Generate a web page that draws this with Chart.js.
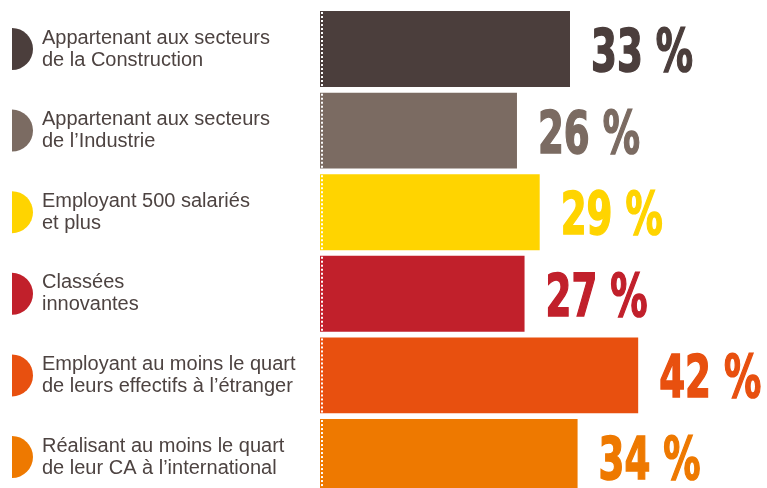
<!DOCTYPE html>
<html>
<head>
<meta charset="utf-8">
<script src="https://cdn.jsdelivr.net/npm/chart.js@4"></script>
<style>
  html, body { margin: 0; padding: 0; background: #fff; overflow: hidden; }
  #wrap { width: 767px; height: 500px; }
</style>
</head>
<body>
<div id="wrap"><canvas id="chart" width="767" height="500"></canvas></div>
<script>
// Data
const categories = [
    ['Appartenant aux secteurs', 'de la Construction'],
    ['Appartenant aux secteurs', 'de l’Industrie'],
    ['Employant 500 salariés', 'et plus'],
    ['Classées', 'innovantes'],
    ['Employant au moins le quart', 'de leurs effectifs à l’étranger'],
    ['Réalisant au moins le quart', 'de leur CA à l’international'],
];
const shares = [33, 26, 29, 27, 42, 34];
const barColors = ['#4b3e3c', '#7b6b62', '#ffd400', '#c1202b', '#e8500f', '#ee7900'];

// Half discs on the left, dotted edge and big value labels
const decorations = {
    id: 'decorations',
    afterDatasetsDraw(chart) {
        const { ctx } = chart;
        const yScale = chart.scales.y;
        const meta = chart.getDatasetMeta(0);

        ctx.save();
        categories.forEach((_, i) => {
            const cy = yScale.getPixelForValue(i);
            ctx.fillStyle = barColors[i];
            ctx.beginPath();
            ctx.arc(12, cy, 21, -Math.PI / 2, Math.PI / 2);
            ctx.closePath();
            ctx.fill();
        });

        meta.data.forEach((bar, i) => {
            const top = bar.y - bar.height / 2;
            const bottom = bar.y + bar.height / 2;
            ctx.strokeStyle = '#ffffff';
            ctx.lineWidth = 2;
            ctx.setLineDash([2, 2]);
            ctx.beginPath();
            ctx.moveTo(bar.base + 2, top + 1);
            ctx.lineTo(bar.base + 2, bottom);
            ctx.stroke();
            ctx.setLineDash([]);

            // condensed look: squeeze the text to the width seen in the picture
            const text = `${shares[i]} %`;
            ctx.font = 'bold 58px "DejaVu Sans Condensed", "DejaVu Sans", sans-serif';
            ctx.fillStyle = barColors[i];
            ctx.strokeStyle = barColors[i];
            ctx.lineWidth = 1.5;
            ctx.textAlign = 'left';
            ctx.textBaseline = 'alphabetic';
            const squeeze = 102 / ctx.measureText(text).width;
            ctx.save();
            ctx.translate(bar.x + 21, bar.y + 22);
            ctx.scale(squeeze, 1);
            ctx.fillText(text, 0, 0);
            ctx.strokeText(text, 0, 0);
            ctx.restore();
        });
        ctx.restore();
    },
};

// eslint-disable-next-line no-new
new Chart(document.getElementById('chart').getContext('2d'), {
    type: 'bar',
    data: {
        labels: categories,
        datasets: [{
            data: shares,
            backgroundColor: barColors,
            borderWidth: 0,
            barPercentage: 0.93,
            categoryPercentage: 1,
        }],
    },
    options: {
        indexAxis: 'y',
        responsive: false,
        animation: false,
        layout: {
            padding: { left: 42, right: 7.6, top: 8.2, bottom: 2.2 },
        },
        plugins: {
            legend: { display: false },
            tooltip: { enabled: false },
        },
        scales: {
            x: {
                display: false,
                min: 0,
                max: 58,
            },
            y: {
                grid: { display: false },
                border: { display: false },
                afterFit: (scale) => {
                    scale.width = 278;
                    scale.paddingTop = 0;
                    scale.paddingBottom = 0;
                },
                ticks: {
                    crossAlign: 'far',
                    color: '#4d4341',
                    font: { family: '"Liberation Sans", Arial, sans-serif', size: 20, lineHeight: 1.1 },
                },
            },
        },
    },
    plugins: [decorations],
});
</script>
</body>
</html>
